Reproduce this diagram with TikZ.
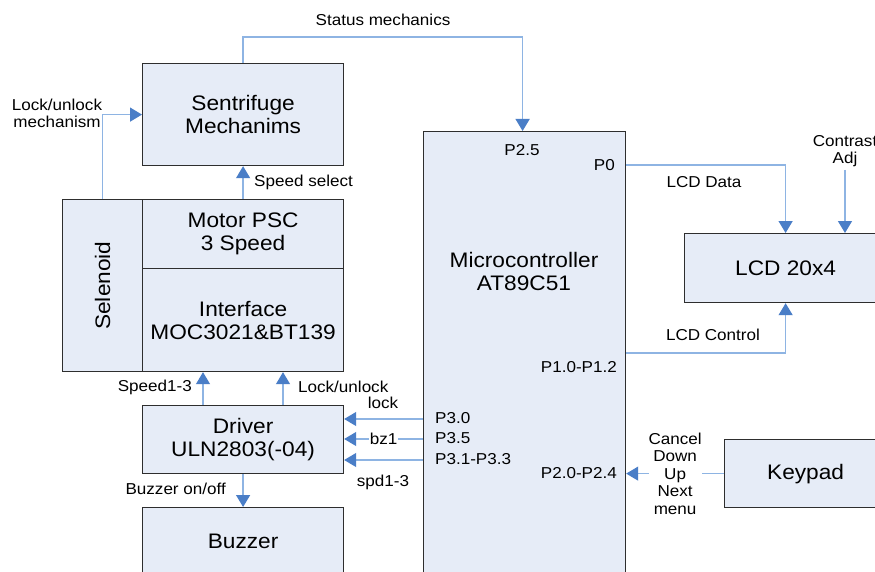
\documentclass[tikz,border=0pt]{standalone}
\usepackage{fontspec}
\setmainfont{Liberation Sans}[FakeStretch=1.08]
\usetikzlibrary{arrows.meta}
\definecolor{boxfill}{HTML}{E6ECF7}
\definecolor{boxline}{HTML}{2E2E2E}
\definecolor{wirecol}{HTML}{8EB4E3}
\definecolor{tipcol}{HTML}{4A7EC7}

\tikzset{
  blk/.style={draw=boxline, line width=1.2pt, fill=boxfill, inner sep=0pt,
              anchor=north west, font=\fontsize{21}{23}\selectfont, align=center},
  bigtxt/.style={font=\fontsize{21}{23}\selectfont, align=center, inner sep=0pt},
  lbl/.style={font=\fontsize{15.8}{17.5}\selectfont, align=center, inner sep=0pt},
  wire/.style={draw=wirecol, line width=1.3pt,
               -{Triangle[length=12pt,width=14pt,color=tipcol]}},
}

\begin{document}
\begin{tikzpicture}[x=1pt, y=-1pt]
  \useasboundingbox (0,0) rectangle (875,572);
  \fill[white] (0,0) rectangle (875,572);

  % blocks
  \node[blk, minimum width=201pt, minimum height=102pt] (sent) at (142,63) {Sentrifuge\\Mechanims};
  \node[blk, minimum width=80pt,  minimum height=172pt] (sel)  at (62,199) {};
  \node[bigtxt, rotate=90] (seltxt) at (sel.center) {Selenoid};
  \node[blk, minimum width=201pt, minimum height=69pt]  (motor) at (142,199) {Motor PSC\\3 Speed};
  \node[blk, minimum width=201pt, minimum height=103pt] (iface) at (142,268) {Interface\\MOC3021\&BT139};
  \node[blk, minimum width=201pt, minimum height=68pt]  (drv)  at (142,405) {Driver\\ULN2803(-04)};
  \node[blk, minimum width=201pt, minimum height=68pt]  (buz)  at (142,507) {Buzzer};
  \node[blk, minimum width=202pt, minimum height=470pt] (mcu)  at (423,131) {};
  \node[bigtxt] (mcutxt) at (524,271) {Microcontroller\\AT89C51};
  \node[blk, minimum width=202pt, minimum height=69pt]  (lcd)  at (684,233) {LCD 20x4};
  \node[blk, minimum width=162pt, minimum height=68pt]  (key)  at (724,439) {Keypad};

  % port and signal labels
  \node[lbl] (stat) at (383,20) {Status mechanics};
  \node[lbl] (lum)  at (57,113.5) {Lock/unlock\\mechanism};
  \node[lbl, anchor=west] (spsel) at (254,182) {Speed select};
  \node[lbl, anchor=east] (sp13) at (192,387) {Speed1-3};
  \node[lbl, anchor=west] (lul)  at (298,387) {Lock/unlock};
  \node[lbl] (lockl) at (383,403) {lock};
  \node[lbl] (spdl)  at (383,482) {spd1-3};
  \node[lbl, anchor=east] (buzl) at (226,489) {Buzzer on/off};
  \node[lbl] (p25) at (522,150) {P2.5};
  \node[lbl, anchor=east] (p0)  at (615,165) {P0};
  \node[lbl] (lcdd) at (704,182) {LCD Data};
  \node[lbl] (lcdc) at (713,335) {LCD Control};
  \node[lbl, anchor=east] (p10) at (617,367) {P1.0-P1.2};
  \node[lbl, anchor=west] (p30l) at (435,418) {P3.0};
  \node[lbl, anchor=west] (p35l) at (435,438) {P3.5};
  \node[lbl, anchor=west] (p31l) at (435,459) {P3.1-P3.3};
  \node[lbl, anchor=east] (p20) at (617,473) {P2.0-P2.4};
  \node[lbl] (cadjl) at (845,151) {Contrast\\Adj};

  % connectors
  \draw[wire] (sent.north) -- ++(0,-26) -| ([xshift=-2pt]mcu.north);
  \draw[wire] (sel.north) |- (sent.west);
  \draw[wire] (motor.north) -- (sent.south);

  \coordinate (p0o) at ([yshift=-34pt]mcu.north east);
  \draw[wire] (p0o) -| (lcd.north);
  \coordinate (cadj) at (845,170);
  \draw[wire] (cadj) -- (cadj |- lcd.north);
  \coordinate (p1o) at ([yshift=-222pt]mcu.north east);
  \draw[wire] (p1o) -| (lcd.south);

  \coordinate (s13) at ([xshift=61pt]drv.north west);
  \draw[wire] (s13) -- (s13 |- iface.south);
  \coordinate (lu) at ([xshift=141pt]drv.north west);
  \draw[wire] (lu) -- (lu |- iface.south);
  \draw[wire] (drv.south) -- (buz.north);

  \coordinate (p30) at ([yshift=-288pt]mcu.north west);
  \draw[wire] (p30) -- (p30 -| drv.east);
  \coordinate (p35) at ([yshift=-308pt]mcu.north west);
  \draw[wire] (p35) -- node[lbl, fill=white, inner xsep=1pt] (bz1) {bz1} (p35 -| drv.east);
  \coordinate (p31) at ([yshift=-329pt]mcu.north west);
  \draw[wire] (p31) -- (p31 -| drv.east);

  \draw[wire] (key.west) -- node[lbl, fill=white, inner xsep=0pt] (keys)
    {Cancel\\Down\\Up\\Next\\menu} (key.west -| mcu.east);
\end{tikzpicture}
\end{document}
